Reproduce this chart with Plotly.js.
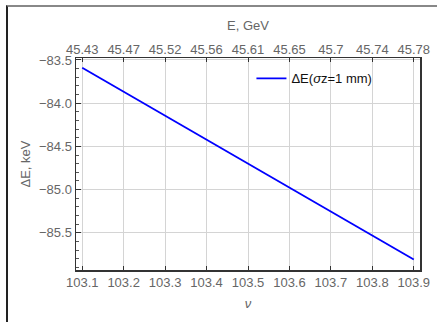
<!DOCTYPE html>
<html>
<head>
<meta charset="utf-8">
<script src="https://cdn.plot.ly/plotly-3.0.1.min.js"></script>
<style>
html,body{margin:0;padding:0;background:#fff;overflow:hidden;}
#wrap{position:relative;width:437px;height:322px;}
#chart{position:absolute;left:0;top:0;width:437px;height:322px;}
#frame{position:absolute;left:6px;top:5px;width:600px;height:600px;border-left:2px solid #222;border-top:2px solid #888;pointer-events:none;}
</style>
</head>
<body>
<div id="wrap"><div id="chart"></div><div id="frame"></div></div>
<script>
// Betatron tune nu (bottom axis)
const nu = [103.1, 103.2, 103.3, 103.4, 103.5, 103.6, 103.7, 103.8, 103.9];
// Energy loss Delta E, keV
const dE = [-83.59, -83.867, -84.145, -84.422, -84.70, -84.978, -85.255, -85.532, -85.81];
// Top axis tick labels (E, GeV) at the same nu positions
const nuTicks = [103.1, 103.2, 103.3, 103.4, 103.5, 103.6, 103.7, 103.8, 103.9];
const energyLabels = ["45.43", "45.47", "45.52", "45.56", "45.61", "45.65", "45.7", "45.74", "45.78"];
const seriesName = "\u0394E(<i>\u03c3</i>z=1 mm)";

const font = {family: "Liberation Sans, Arial, sans-serif", size: 13, color: "#666"};
const xRange = [103.085, 103.915];
const yRange = [-85.931, -83.477];

const traces = [
  {x: nu, y: dE, type: "scatter", mode: "lines", name: seriesName,
   line: {color: "#0000ff", width: 1.8}, xaxis: "x", yaxis: "y"},
  {x: nu, y: dE, type: "scatter", mode: "lines", showlegend: false, hoverinfo: "skip",
   line: {color: "rgba(0,0,0,0)", width: 0}, xaxis: "x2", yaxis: "y"}
];

const layout = {
  width: 437, height: 322,
  margin: {l: 76, r: 17, t: 58, b: 52},
  paper_bgcolor: "#fff", plot_bgcolor: "#fff",
  font: font,
  showlegend: true,
  legend: {x: 0.51, xanchor: "left", y: 0.904, yanchor: "middle",
           bgcolor: "rgba(0,0,0,0)", borderwidth: 0,
           font: {family: "Liberation Sans, Arial, sans-serif", size: 13, color: "#111"}},
  xaxis: {
    range: xRange, tickvals: nuTicks, ticktext: nuTicks.map(v => v.toFixed(1)),
    ticks: "inside", ticklen: 4, tickcolor: "#333", tickwidth: 1,
    showline: true, linecolor: "#333", linewidth: 1.5, mirror: true,
    showgrid: true, gridcolor: "#d4d4d4", gridwidth: 1, zeroline: false,
    tickfont: font, automargin: false,
    title: {text: "<i>\u03bd</i>", font: font, standoff: 10}
  },
  xaxis2: {
    range: xRange, overlaying: "x", side: "top", anchor: "y",
    tickvals: nuTicks, ticktext: energyLabels,
    ticks: "inside", ticklen: 4, tickcolor: "#333", tickwidth: 1,
    showline: false, showgrid: false, zeroline: false,
    tickfont: font, automargin: false,
    title: {text: "E, GeV", font: font, standoff: 8}
  },
  yaxis: {
    range: yRange, dtick: 0.5, tick0: -83.5, tickformat: ".1f",
    ticks: "inside", ticklen: 5, tickcolor: "#333", tickwidth: 1,
    minor: {dtick: 0.1, ticks: "inside", ticklen: 2.5, tickcolor: "#555", showgrid: false},
    showline: true, linecolor: "#333", linewidth: 1.5, mirror: true,
    showgrid: true, gridcolor: "#d4d4d4", gridwidth: 1, zeroline: false,
    tickfont: font, automargin: false,
    title: {text: "\u0394E, keV", font: font, standoff: 5}
  }
};

Plotly.newPlot("chart", traces, layout, {staticPlot: true, displayModeBar: false});
</script>
</body>
</html>
